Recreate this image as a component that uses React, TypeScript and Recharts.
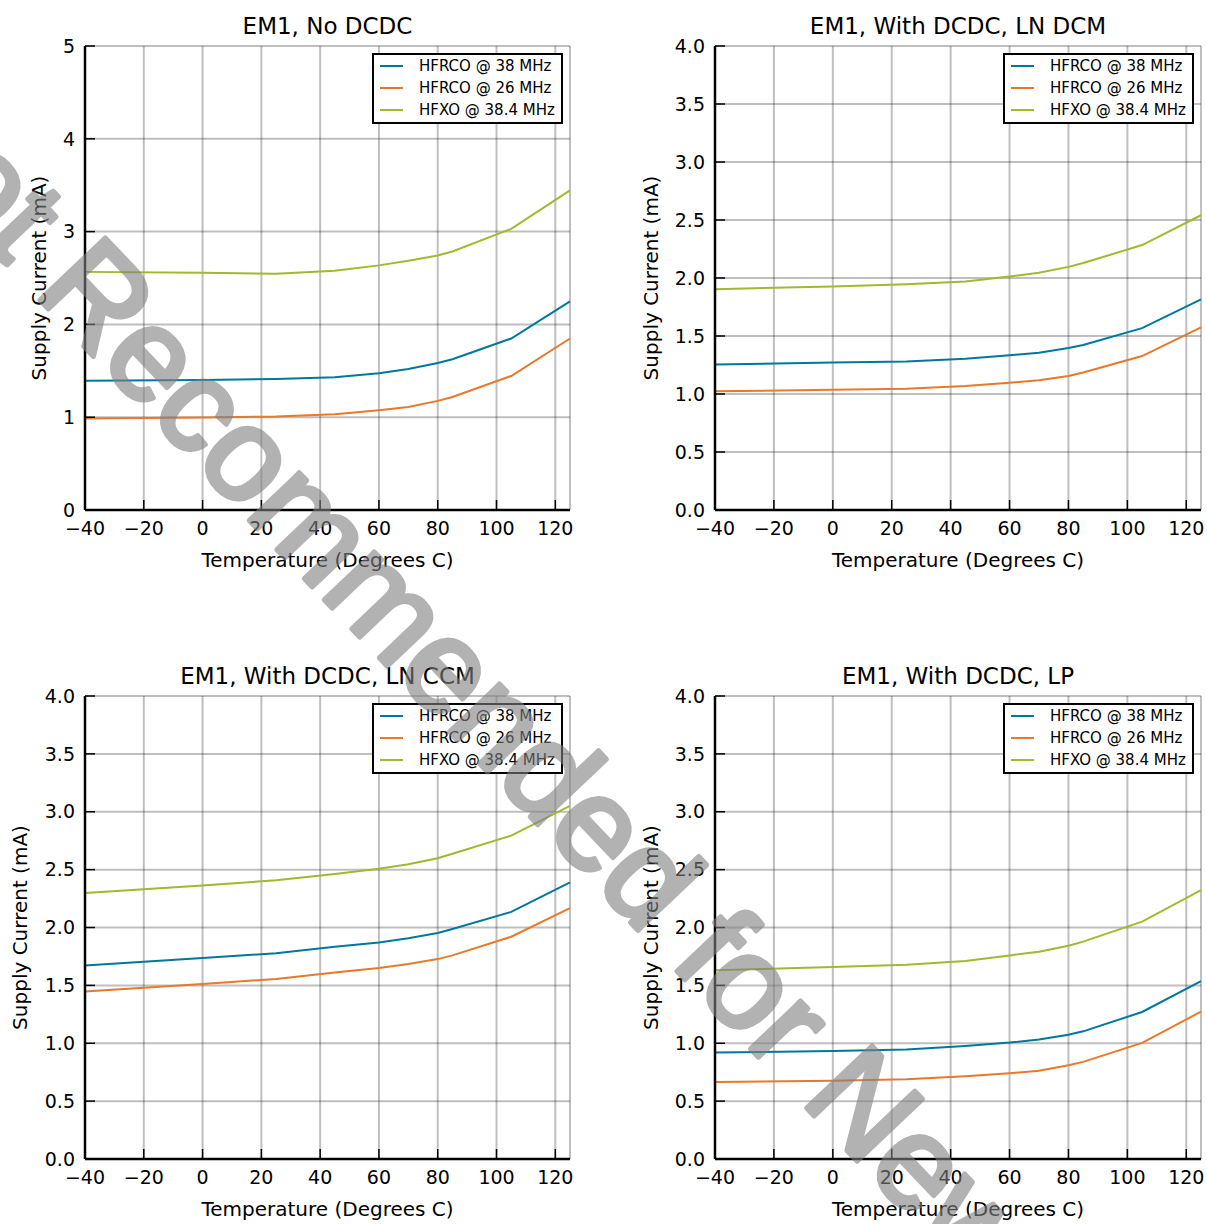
import React from 'react';
import { LineChart, Line, XAxis, YAxis, CartesianGrid, Legend } from 'recharts';

// ---------- data ----------
const temperatures = [-40, 0, 25, 45, 60, 70, 80, 85, 105, 125];
const xTicks = [-40, -20, 0, 20, 40, 60, 80, 100, 120];
const yTicksNoDcdc = [0, 1, 2, 3, 4, 5];
const yTicksDcdc = [0, 0.5, 1, 1.5, 2, 2.5, 3, 3.5, 4];

const seriesNames = ['HFRCO @ 38 MHz', 'HFRCO @ 26 MHz', 'HFXO @ 38.4 MHz'];
const seriesColors = ['#00789c', '#e8792b', '#a2b92e'];

const panelTitles = [
  'EM1, No DCDC',
  'EM1, With DCDC, LN DCM',
  'EM1, With DCDC, LN CCM',
  'EM1, With DCDC, LP',
];

const noDcdcHfrco38 = [1.394, 1.4, 1.411, 1.43, 1.473, 1.52, 1.584, 1.625, 1.848, 2.248];
const noDcdcHfrco26 = [0.986, 0.998, 1.007, 1.031, 1.075, 1.11, 1.176, 1.217, 1.444, 1.848];
const noDcdcHfxo = [2.566, 2.556, 2.545, 2.578, 2.636, 2.686, 2.743, 2.785, 3.03, 3.445];

const lnDcmHfrco38 = [1.254, 1.271, 1.28, 1.304, 1.333, 1.356, 1.396, 1.422, 1.568, 1.815];
const lnDcmHfrco26 = [1.023, 1.036, 1.046, 1.069, 1.096, 1.119, 1.155, 1.185, 1.327, 1.574];
const lnDcmHfxo = [1.904, 1.927, 1.947, 1.97, 2.013, 2.046, 2.096, 2.129, 2.284, 2.541];

const lnCcmHfrco38 = [1.672, 1.736, 1.778, 1.833, 1.871, 1.907, 1.952, 1.987, 2.135, 2.389];
const lnCcmHfrco26 = [1.447, 1.511, 1.556, 1.611, 1.65, 1.685, 1.727, 1.759, 1.92, 2.167];
const lnCcmHfxo = [2.299, 2.363, 2.408, 2.463, 2.508, 2.547, 2.598, 2.637, 2.794, 3.051];

const lpHfrco38 = [0.92, 0.932, 0.945, 0.977, 1.006, 1.032, 1.074, 1.103, 1.27, 1.537];
const lpHfrco26 = [0.666, 0.675, 0.688, 0.714, 0.74, 0.762, 0.81, 0.839, 1.003, 1.273];
const lpHfxo = [1.63, 1.659, 1.678, 1.711, 1.759, 1.791, 1.842, 1.878, 2.051, 2.322];

const watermarkText = 'Not Recommended for New Designs';

// ---------- helpers ----------
const FONT = "'DejaVu Sans', sans-serif";
const keys = ['s0', 's1', 's2'];

function buildRows(a: number[], b: number[], c: number[]) {
  return temperatures.map((t, i) => ({ t, s0: a[i], s1: b[i], s2: c[i] }));
}

const fmtX = (v: number) => (v < 0 ? '\u2212' + Math.abs(v) : String(v));

function makeLegend() {
  return () => (
    <div
      style={{
        boxSizing: 'border-box',
        width: 191,
        height: 71,
        border: '2px solid #000',
        background: '#fff',
        fontFamily: FONT,
        fontSize: 15,
        color: '#000',
      }}
    >
      {seriesNames.map((n, i) => (
        <div key={n} style={{ display: 'flex', alignItems: 'center', height: 22 }}>
          <span
            style={{
              display: 'inline-block',
              width: 23,
              height: 2.5,
              marginLeft: 6,
              background: seriesColors[i],
            }}
          />
          <span style={{ marginLeft: 16, whiteSpace: 'nowrap', lineHeight: '22px' }}>{n}</span>
        </div>
      ))}
    </div>
  );
}

type PanelProps = {
  title: string;
  rows: any[];
  yMax: number;
  yTicks: number[];
  decimals: number;
  left: number;
  top: number;
  width: number;
  height: number;
  plotLeft: number; // relative to box
  plotRight: number;
  plotTop: number;
  plotBottom: number;
  yLabelDist: number;
};

function Panel(p: PanelProps) {
  const yAxisWidth = p.plotLeft;
  const marginRight = p.width - p.plotRight;
  const xAxisHeight = p.height - p.plotBottom;
  const plotWidth = p.plotRight - p.plotLeft;
  const tickStyle = { fontSize: 19, fill: '#000', fontFamily: FONT };
  const axisLine = { stroke: '#000', strokeWidth: 2.5 };
  const tickLine = { stroke: '#000', strokeWidth: 1.5 };

  const renderXLabel = (props: any) => {
    const vb = props.viewBox || {};
    return (
      <text
        x={vb.x + vb.width / 2}
        y={vb.y + 57}
        textAnchor="middle"
        fontSize={20}
        fontFamily={FONT}
        fill="#000"
      >
        Temperature (Degrees C)
      </text>
    );
  };
  const renderYLabelAndTitle = (props: any) => {
    const vb = props.viewBox || {};
    const spine = vb.x + vb.width;
    const cx = spine - p.yLabelDist;
    const cy = vb.y + vb.height / 2;
    return (
      <g>
        <text
          x={cx}
          y={cy}
          transform={`rotate(-90 ${cx} ${cy})`}
          textAnchor="middle"
          dominantBaseline="central"
          fontSize={20}
          fontFamily={FONT}
          fill="#000"
        >
          Supply Current (mA)
        </text>
        <text
          x={spine + plotWidth / 2}
          y={vb.y - 12}
          textAnchor="middle"
          fontSize={23}
          fontFamily={FONT}
          fill="#000"
        >
          {p.title}
        </text>
      </g>
    );
  };

  return (
    <div style={{ position: 'absolute', left: p.left, top: p.top, width: p.width, height: p.height }}>
      <LineChart
        width={p.width}
        height={p.height}
        data={p.rows}
        margin={{ top: p.plotTop, right: marginRight, left: 0, bottom: 0 }}
      >
        <CartesianGrid stroke="#000" strokeOpacity={0.25} strokeWidth={2} />
        <XAxis
          dataKey="t"
          type="number"
          domain={[-40, 125]}
          ticks={xTicks}
          tickFormatter={fmtX}
          height={xAxisHeight}
          tickSize={-10}
          tickMargin={22}
          tick={tickStyle}
          axisLine={axisLine}
          tickLine={tickLine}
          interval={0}
          label={renderXLabel}
        />
        <XAxis
          xAxisId="top"
          orientation="top"
          dataKey="t"
          type="number"
          domain={[-40, 125]}
          ticks={xTicks}
          height={0}
          tickSize={-10}
          tick={false}
          axisLine={axisLine}
          tickLine={tickLine}
          interval={0}
        />
        <YAxis
          type="number"
          domain={[0, p.yMax]}
          ticks={p.yTicks}
          tickFormatter={(v: number) => v.toFixed(p.decimals)}
          width={yAxisWidth}
          tickSize={-10}
          tickMargin={20}
          tick={tickStyle}
          axisLine={axisLine}
          tickLine={tickLine}
          interval={0}
          label={renderYLabelAndTitle}
        />
        <YAxis
          yAxisId="right"
          orientation="right"
          type="number"
          domain={[0, p.yMax]}
          ticks={p.yTicks}
          width={0}
          tickSize={-10}
          tick={false}
          axisLine={axisLine}
          tickLine={tickLine}
          interval={0}
        />
        {keys.map((k, i) => (
          <Line
            key={k}
            dataKey={k}
            name={seriesNames[i]}
            type="linear"
            stroke={seriesColors[i]}
            strokeWidth={2}
            dot={false}
            activeDot={false}
            isAnimationActive={false}
          />
        ))}
        <Legend
          layout="vertical"
          align="center"
          verticalAlign="middle"
          content={makeLegend()}
          wrapperStyle={{
            left: p.plotRight - 7 - 191,
            top: p.plotTop + 7,
            width: 191,
            height: 71,
            right: 'auto',
            bottom: 'auto',
          }}
        />
      </LineChart>
    </div>
  );
}

export default function App() {
  return (
    <div
      style={{
        position: 'absolute',
        left: 0,
        top: 0,
        width: 1207,
        height: 1224,
        background: '#fff',
        overflow: 'hidden',
        fontFamily: FONT,
      }}
    >
      <Panel
        title={panelTitles[0]}
        rows={buildRows(noDcdcHfrco38, noDcdcHfrco26, noDcdcHfxo)}
        yMax={5}
        yTicks={yTicksNoDcdc}
        decimals={0}
        left={0}
        top={0}
        width={603}
        height={612}
        plotLeft={85}
        plotRight={570}
        plotTop={46}
        plotBottom={510}
        yLabelDist={46}
      />
      <Panel
        title={panelTitles[1]}
        rows={buildRows(lnDcmHfrco38, lnDcmHfrco26, lnDcmHfxo)}
        yMax={4}
        yTicks={yTicksDcdc}
        decimals={1}
        left={603}
        top={0}
        width={604}
        height={612}
        plotLeft={112}
        plotRight={598}
        plotTop={46}
        plotBottom={510}
        yLabelDist={64}
      />
      <Panel
        title={panelTitles[2]}
        rows={buildRows(lnCcmHfrco38, lnCcmHfrco26, lnCcmHfxo)}
        yMax={4}
        yTicks={yTicksDcdc}
        decimals={1}
        left={0}
        top={612}
        width={603}
        height={612}
        plotLeft={85}
        plotRight={570}
        plotTop={84}
        plotBottom={547}
        yLabelDist={65}
      />
      <Panel
        title={panelTitles[3]}
        rows={buildRows(lpHfrco38, lpHfrco26, lpHfxo)}
        yMax={4}
        yTicks={yTicksDcdc}
        decimals={1}
        left={603}
        top={612}
        width={604}
        height={612}
        plotLeft={112}
        plotRight={598}
        plotTop={84}
        plotBottom={547}
        yLabelDist={64}
      />
      <svg
        width={1207}
        height={1224}
        style={{ position: 'absolute', left: 0, top: 0, pointerEvents: 'none' }}
      >
        <g opacity={0.6}>
          <text
            x={0}
            y={0}
            transform="translate(-133 118) rotate(46.5)"
            fontFamily="'Liberation Sans', Arial, sans-serif"
            fontSize={131}
            fill="#808080"
            stroke="#808080"
            strokeWidth={5}
            strokeLinejoin="round"
          >
            {watermarkText}
          </text>
        </g>
      </svg>
    </div>
  );
}
